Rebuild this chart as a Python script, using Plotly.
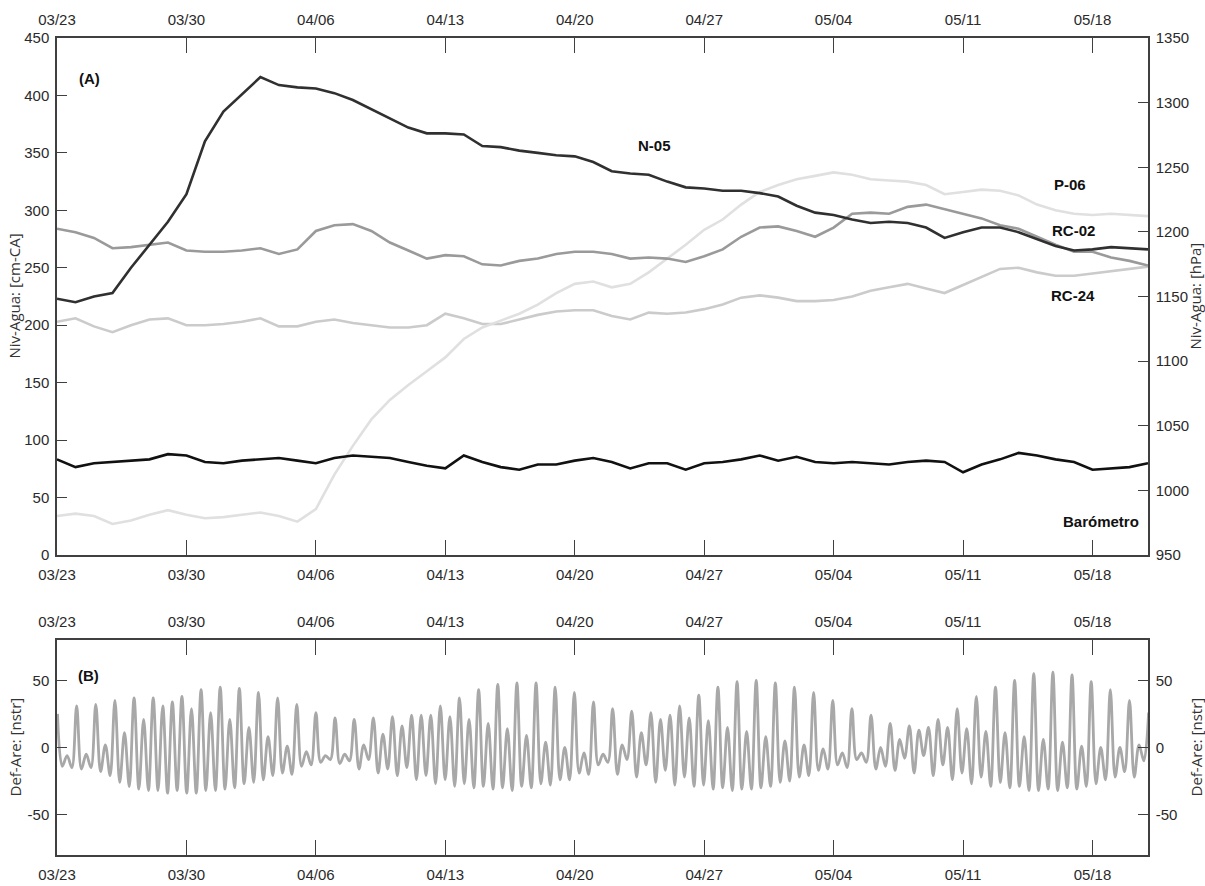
import pandas as pd
import plotly.graph_objects as go

# ---------------------------------------------------------------- data
START = pd.Timestamp("2019-03-23")
N_DAYS = 59  # 03/23 -> 05/21

# Daily water levels [cm-CA], day 0 = 03/23
n05 = [223, 220, 225, 228, 250, 270, 290, 314, 360, 386,
       401, 416, 409, 407, 406, 402, 396, 388, 380, 372,
       367, 367, 366, 356, 355, 352, 350, 348, 347, 342,
       334, 332, 331, 325, 320, 319, 317, 317, 315, 312,
       304, 298, 296, 292, 289, 290, 289, 285, 276, 281,
       285, 285, 281, 275, 269, 265, 266, 268, 267, 266]
rc02 = [284, 281, 276, 267, 268, 270, 272, 265, 264, 264,
        265, 267, 262, 266, 282, 287, 288, 282, 272, 265,
        258, 261, 260, 253, 252, 256, 258, 262, 264, 264,
        262, 258, 259, 258, 255, 260, 266, 277, 285, 286,
        282, 277, 285, 297, 298, 297, 303, 305, 301, 297,
        293, 287, 284, 277, 270, 264, 264, 259, 256, 252]
p06 = [34, 36, 34, 27, 30, 35, 39, 35, 32, 33,
       35, 37, 34, 29, 40, 70, 95, 118, 135, 148,
       160, 172, 188, 198, 204, 210, 218, 228, 236, 238,
       233, 236, 246, 258, 270, 283, 292, 305, 316, 322,
       327, 330, 333, 331, 327, 326, 325, 322, 314, 316,
       318, 317, 313, 305, 300, 297, 296, 297, 296, 295]
rc24 = [203, 206, 199, 194, 200, 205, 206, 200, 200, 201,
        203, 206, 199, 199, 203, 205, 202, 200, 198, 198,
        200, 210, 206, 201, 201, 205, 209, 212, 213, 213,
        208, 205, 211, 210, 211, 214, 218, 224, 226, 224,
        221, 221, 222, 225, 230, 233, 236, 232, 228, 235,
        242, 249, 250, 246, 243, 243, 245, 247, 249, 251]

# Daily barometric pressure [hPa]
baro = [1024, 1018, 1021, 1022, 1023, 1024, 1028, 1027, 1022, 1021,
        1023, 1024, 1025, 1023, 1021, 1025, 1027, 1026, 1025, 1022,
        1019, 1017, 1027, 1022, 1018, 1016, 1020, 1020, 1023, 1025,
        1022, 1017, 1021, 1021, 1016, 1021, 1022, 1024, 1027, 1023,
        1026, 1022, 1021, 1022, 1021, 1020, 1022, 1023, 1022, 1014,
        1020, 1024, 1029, 1027, 1024, 1022, 1016, 1017, 1018, 1021]

# Strain record [nstr]: successive highs and lows of the semidiurnal cycle
TIDE_T0 = 0.027       # time of first high [days after 03/23]
TIDE_PERIOD = 0.5176  # days between successive highs
tide_highs = [25, -6, 31, -5, 32, 2, 35, 11, 37, 21,
              37, 31, 34, 38, 29, 43, 26, 45, 21, 44,
              15, 41, 8, 37, 1, 32, -3, 26, -6, 22,
              -5, 21, 2, 22, 10, 23, 16, 24, 24, 24,
              31, 23, 37, 21, 43, 18, 47, 14, 48, 9,
              48, 4, 45, 0, 41, -4, 34, -5, 29, 2,
              27, 11, 26, 21, 24, 31, 22, 39, 20, 45,
              15, 49, 12, 50, 8, 48, 5, 45, 2, 41,
              -1, 35, -4, 29, -4, 24, 0, 18, 6, 16,
              13, 15, 21, 15, 29, 14, 38, 12, 45, 11,
              50, 8, 55, 6, 56, 4, 54, 1, 49, 0,
              43, 0, 35, 2, 26]
tide_lows = [-14, -15, -16, -15, -18, -21, -26, -29, -31, -32,
             -32, -34, -32, -34, -34, -32, -32, -31, -30, -27,
             -26, -24, -21, -19, -20, -14, -13, -11, -9, -12,
             -10, -16, -9, -19, -16, -21, -15, -24, -21, -27,
             -24, -29, -27, -30, -29, -31, -30, -32, -29, -30,
             -27, -28, -24, -24, -19, -20, -13, -11, -20, -9,
             -22, -13, -26, -17, -28, -22, -29, -28, -31, -30,
             -32, -31, -31, -30, -29, -26, -25, -22, -21, -17,
             -16, -13, -15, -9, -11, -16, -14, -17, -8, -19,
             -6, -21, -13, -24, -19, -27, -22, -29, -26, -30,
             -29, -32, -32, -31, -32, -30, -31, -29, -27, -24,
             -22, -18, -22, -10]

week_ticks = [START + pd.Timedelta(days=7 * i) for i in range(9)]
level_ticks = list(range(0, 451, 50))
pressure_ticks = list(range(950, 1351, 50))
strain_ticks = [-50, 0, 50]
strain_labels = ["-50", "0", "50"]

# ---------------------------------------------------------------- build series
def day_to_time(d):
    return START + pd.Timedelta(days=d)

t_daily = [day_to_time(d) for d in range(len(n05))]

tide_t, tide_v = [], []
for i, hi in enumerate(tide_highs):
    tide_t.append(day_to_time(TIDE_T0 + i * TIDE_PERIOD))
    tide_v.append(hi)
    if i < len(tide_lows):
        tide_t.append(day_to_time(TIDE_T0 + (i + 0.5) * TIDE_PERIOD))
        tide_v.append(tide_lows[i])

# ---------------------------------------------------------------- figure
W, H = 1205, 886
LINE_W = 2.6
TICK_FONT = dict(family="Liberation Sans, Arial, sans-serif", size=15, color="#2a2a2a")
AX_COL = "#404040"
x_range = [START, day_to_time(N_DAYS)]

fig = go.Figure()

series = [
    ("RC-24", rc24, "#cbcbcb"),
    ("P-06", p06, "#e0e0e0"),
    ("RC-02", rc02, "#9a9a9a"),
    ("N-05", n05, "#303030"),
]
for name, vals, col in series:
    fig.add_trace(go.Scatter(x=t_daily, y=vals, mode="lines", name=name,
                             line=dict(color=col, width=LINE_W),
                             xaxis="x", yaxis="y"))

fig.add_trace(go.Scatter(x=t_daily, y=baro, mode="lines", name="Barómetro",
                         line=dict(color="#111111", width=LINE_W),
                         xaxis="x2", yaxis="y2"))

fig.add_trace(go.Scatter(x=tide_t, y=tide_v, mode="lines", name="Def-Are",
                         line=dict(color="#a8a8a8", width=2.8, shape="spline"),
                         xaxis="x3", yaxis="y3"))
fig.add_trace(go.Scatter(x=tide_t, y=tide_v, mode="lines", showlegend=False,
                         hoverinfo="skip", line=dict(color="rgba(0,0,0,0)", width=0),
                         xaxis="x4", yaxis="y4"))

# panel geometry in pixels -> paper fractions
L, R = 57, 1148
A_TOP, A_BOT = 38, 555
B_TOP, B_BOT = 640, 855
xdom = [L / W, R / W]
ydom_a = [(H - A_BOT) / H, (H - A_TOP) / H]
ydom_b = [(H - B_BOT) / H, (H - B_TOP) / H]

def xaxis(domain_anchor, side, overlay=None):
    d = dict(type="date", range=x_range, domain=xdom, anchor=domain_anchor,
             side=side, tickvals=week_ticks, tickformat="%m/%d",
             ticks="inside", ticklen=15, tickwidth=1.2, tickcolor=AX_COL,
             showline=True, linecolor=AX_COL, linewidth=1.5,
             showgrid=False, zeroline=False, tickfont=TICK_FONT,
             ticklabelstandoff=5, automargin=False)
    if overlay:
        d["overlaying"] = overlay
    return d

def yaxis(domain, side, rng, tickvals, ticktext=None, overlay=None, anchor=None):
    d = dict(range=rng, domain=domain, side=side, tickvals=tickvals,
             ticks="inside", ticklen=10, tickwidth=1.2, tickcolor=AX_COL,
             showline=True, linecolor=AX_COL, linewidth=1.5,
             showgrid=False, zeroline=False, tickfont=TICK_FONT,
             ticklabelstandoff=3, automargin=False)
    if ticktext:
        d["ticktext"] = ticktext
    if overlay:
        d["overlaying"] = overlay
    if anchor:
        d["anchor"] = anchor
    return d

fig.update_layout(
    width=W, height=H,
    margin=dict(l=0, r=0, t=0, b=0, autoexpand=False),
    paper_bgcolor="white", plot_bgcolor="white",
    showlegend=False,
    xaxis=xaxis("y", "bottom"),
    xaxis2=xaxis("y2", "top", overlay="x"),
    yaxis=yaxis(ydom_a, "left", [0, 450], level_ticks, anchor="x"),
    yaxis2=yaxis(ydom_a, "right", [950, 1350], pressure_ticks,
                 overlay="y", anchor="x2"),
    xaxis3=xaxis("y3", "bottom"),
    xaxis4=xaxis("y4", "top", overlay="x3"),
    yaxis3=yaxis(ydom_b, "left", [-80, 80], strain_ticks, strain_labels, anchor="x3"),
    yaxis4=yaxis(ydom_b, "right", [-80, 80], strain_ticks, strain_labels,
                 overlay="y3", anchor="x4"),
)

TITLE_FONT = dict(family="Open Sans, DejaVu Sans, sans-serif", size=15, color="#333333")
LABEL_FONT = dict(family="Liberation Sans, Arial, sans-serif", size=15, color="#111111")

def px_ann(text, x, y, font, angle=0):
    fig.add_annotation(text=text, x=x / W, y=1 - y / H, xref="paper", yref="paper",
                       showarrow=False, font=font, textangle=angle,
                       xanchor="center", yanchor="middle")

mid_a = (A_TOP + A_BOT) / 2
mid_b = (B_TOP + B_BOT) / 2
px_ann("Niv-Agua: [cm-CA]", 14, mid_a, TITLE_FONT, -90)
px_ann("Niv-Agua: [hPa]", 1195, mid_a, TITLE_FONT, -90)
px_ann("Def-Are: [nstr]", 14, mid_b, TITLE_FONT, -90)
px_ann("Def-Are: [nstr]", 1195, mid_b, TITLE_FONT, -90)

px_ann("<b>(A)</b>", 89, 78, LABEL_FONT)
px_ann("<b>(B)</b>", 88, 675, LABEL_FONT)
px_ann("<b>N-05</b>", 654, 145, LABEL_FONT)
px_ann("<b>P-06</b>", 1070, 184, LABEL_FONT)
px_ann("<b>RC-02</b>", 1073, 230, LABEL_FONT)
px_ann("<b>RC-24</b>", 1073, 295, LABEL_FONT)
px_ann("<b>Barómetro</b>", 1101, 521, LABEL_FONT)

fig.write_html("out.html")
